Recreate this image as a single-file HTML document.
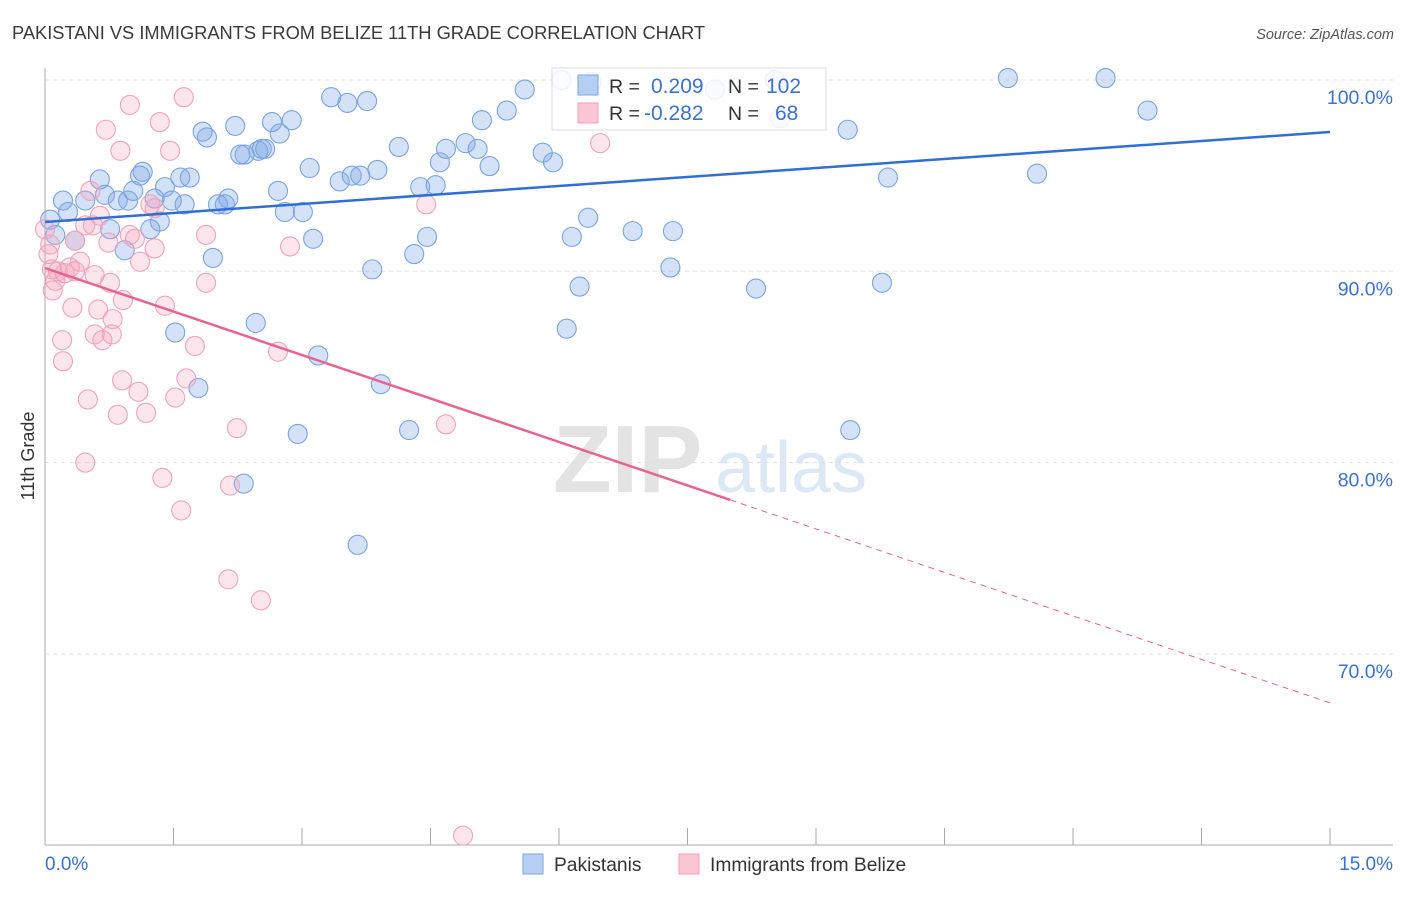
<!DOCTYPE html>
<html><head><meta charset="utf-8"><style>
body{margin:0;background:#fff;font-family:"Liberation Sans",sans-serif;}
svg text{font-family:"Liberation Sans",sans-serif;}
</style></head><body>
<svg id="chart" width="1406" height="892" xmlns="http://www.w3.org/2000/svg">
<text x="12" y="39" font-size="18.3" fill="#3a3a3a">PAKISTANI VS IMMIGRANTS FROM BELIZE 11TH GRADE CORRELATION CHART</text>
<text x="1394" y="39" font-size="14.5" fill="#555" font-style="italic" text-anchor="end">Source: ZipAtlas.com</text>
<g>
<text x="553" y="492" font-size="96" fill="#e3e3e3" font-family="Liberation Serif" font-weight="bold">ZIP</text>
<text x="715" y="492" font-size="72" fill="#dce8f6">atlas</text>
</g>
<g id="grid"></g>
<g id="axes"></g>
<g id="pts"></g>
<g id="lines"></g>
<g>
<rect x="552" y="68" width="274" height="62" fill="#fff" fill-opacity="0.85" stroke="#ddd"/>
<rect x="578" y="75" width="20" height="20" fill="#b5cff2" stroke="#7aa6e6"/>
<rect x="578" y="103" width="20" height="20" fill="#fbc6d4" stroke="#f0a0b6"/>
<text x="609" y="93" font-size="19.5" fill="#333">R =</text>
<text x="651" y="93" font-size="21" fill="#3a72d0">0.209</text>
<text x="728" y="93" font-size="19.5" fill="#333">N =</text>
<text x="766" y="93" font-size="21" fill="#3a72d0">102</text>
<text x="609" y="120" font-size="19.5" fill="#333">R =</text>
<text x="644" y="120" font-size="21" fill="#3a72d0">-0.282</text>
<text x="728" y="120" font-size="19.5" fill="#333">N =</text>
<text x="775" y="120" font-size="21" fill="#3a72d0">68</text>
</g>
<g>
<rect x="523" y="854" width="20" height="20" fill="#b5cff2" stroke="#7aa6e6"/>
<text x="554" y="871" font-size="19.2" fill="#333">Pakistanis</text>
<rect x="679" y="854" width="20" height="20" fill="#fbc6d4" stroke="#f0a0b6"/>
<text x="710" y="871" font-size="19.2" fill="#333">Immigrants from Belize</text>
</g>
<text transform="translate(34,456) rotate(-90)" font-size="18" fill="#333" text-anchor="middle">11th Grade</text>
</svg>
<script>
const yTicks=[100,90,80,70];
const yTickLabels=["100.0%","90.0%","80.0%","70.0%"];
const xEndLabels=["0.0%","15.0%"];
const blueX=[0.21,0.27,0.35,0.12,0.06,0.47,0.64,0.70,0.76,0.85,0.93,0.97,1.03,1.11,1.14,1.23,1.28,1.34,1.40,1.48,1.52,1.58,1.63,1.69,1.79,1.84,1.89,1.96,2.02,2.10,2.14,2.22,2.28,2.33,2.46,2.49,2.53,2.57,2.65,2.72,2.74,2.80,2.88,2.95,3.01,3.09,3.13,3.19,3.34,3.44,3.53,3.58,3.68,3.76,3.65,3.82,3.88,3.92,4.13,4.25,4.31,4.38,4.46,4.56,4.61,4.68,4.91,5.05,5.10,5.19,5.39,5.60,5.81,5.93,6.03,6.09,6.15,6.24,6.34,6.38,6.86,7.30,7.33,7.82,8.30,8.52,8.58,9.37,9.40,9.77,9.84,11.24,11.58,12.38,12.87,2.32];
const blueY=[93.7,93.1,91.6,91.9,92.7,93.7,94.8,94.0,92.2,93.7,91.1,93.7,94.2,95.0,95.2,92.2,93.8,92.6,94.4,93.7,86.8,94.9,93.5,94.9,83.9,97.3,97.0,90.7,93.5,93.5,93.8,97.6,96.1,96.1,87.3,96.3,96.4,96.4,97.8,94.2,97.2,93.1,97.9,81.5,93.1,95.4,91.7,85.6,99.1,94.7,98.8,95.0,95.0,98.9,75.7,90.1,95.3,84.1,96.5,81.7,90.9,94.4,91.8,94.5,95.7,96.4,96.7,96.4,97.9,95.5,98.4,99.5,96.2,95.7,100.0,87.0,91.8,89.2,92.8,99.9,92.1,90.2,92.1,99.5,89.1,100.0,98.0,97.4,81.7,89.4,94.9,100.1,95.1,100.1,98.4,78.9];
const pinkX=[0.06,0.08,0.12,0.09,0.15,0.20,0.21,0.29,0.32,0.35,0.41,0.35,0.50,0.47,0.53,0.56,0.58,0.62,0.64,0.67,0.71,0.74,0.76,0.78,0.79,0.85,0.90,0.91,0.88,0.99,1.05,1.09,1.11,1.18,1.23,1.28,1.34,1.37,1.40,1.46,1.52,1.59,1.62,1.65,1.75,1.88,1.88,2.14,2.16,2.24,2.52,2.72,2.86,4.45,4.68,4.88,6.48,0,0.04,0.23,0.47,1.28,0.58,0.99];
const pinkY=[91.4,90.1,89.5,89.0,90.0,86.4,85.3,90.2,88.1,91.6,90.5,90.0,83.3,80.0,94.2,92.4,86.7,88.0,92.9,86.4,97.4,91.5,89.4,86.7,87.5,82.5,84.3,88.5,96.3,98.7,91.7,83.7,90.5,82.6,93.5,91.2,97.8,79.2,88.2,96.3,83.4,77.5,99.1,84.4,86.1,91.9,89.4,73.9,78.8,81.8,72.8,85.8,91.3,93.5,82.0,60.5,96.7,92.2,90.9,89.9,92.4,93.3,89.8,91.9];
const blueTrend=[92.58,97.28];
const pinkTrend=[90.17,67.44];
const pinkSolidEnd=8.0;

const NS="http://www.w3.org/2000/svg";
const X0=45,X1=1330,Y100=80,PX10=191.3;
function sx(v){return X0+(v/15)*(X1-X0);}
function sy(v){return Y100+(100-v)/10*PX10;}
function mk(tag,attrs,parent){const e=document.createElementNS(NS,tag);for(const k in attrs)e.setAttribute(k,attrs[k]);parent.appendChild(e);return e;}
const grid=document.getElementById('grid'),axes=document.getElementById('axes'),pts=document.getElementById('pts'),lines=document.getElementById('lines');
yTicks.forEach((t,i)=>{
  const l=mk('line',{x1:X0,x2:1393,y1:sy(t),y2:sy(t),stroke:'#e0e0e0','stroke-dasharray':'4,4'},grid);
  
  
  const tx=mk('text',{x:1393,y:sy(t)+24,'font-size':19.5,fill:'#3a72d0','text-anchor':'end'},axes);
  tx.textContent=yTickLabels[i];
  
  
});
const ya=mk('line',{x1:X0,x2:X0,y1:68,y2:845,stroke:'#aaa'},axes);


const xa=mk('line',{x1:X0,x2:1393,y1:845,y2:845,stroke:'#aaa'},axes);


for(let k=0;k<=10;k++){
  const v=k*1.5;
  const t=mk('line',{x1:sx(v),x2:sx(v),y1:828,y2:845,stroke:'#aaa'},axes);
  
  
}
const xl0=mk('text',{x:45,y:870,'font-size':19,fill:'#3a72d0'},axes);
xl0.textContent=xEndLabels[0];


const xl1=mk('text',{x:1393,y:870,'font-size':19,fill:'#3a72d0','text-anchor':'end'},axes);
xl1.textContent=xEndLabels[1];



blueX.forEach((x,i)=>{
  const c=mk('circle',{cx:sx(x),cy:sy(blueY[i]),r:9.5,fill:'rgba(120,165,230,0.32)',stroke:'#7aa3e2','stroke-width':1.1},pts);
  
  
});
pinkX.forEach((x,i)=>{
  const c=mk('circle',{cx:sx(x),cy:sy(pinkY[i]),r:9.5,fill:'rgba(245,160,185,0.28)',stroke:'#f0a3b9','stroke-width':1.1},pts);
  
  
});
const bl=mk('line',{x1:sx(0),y1:sy(blueTrend[0]),x2:sx(15),y2:sy(blueTrend[1]),stroke:'#2f6fd6','stroke-width':2.5},lines);


const pAt=v=>pinkTrend[0]+(pinkTrend[1]-pinkTrend[0])*v/15;
const pl=mk('line',{x1:sx(0),y1:sy(pinkTrend[0]),x2:sx(pinkSolidEnd),y2:sy(pAt(pinkSolidEnd)),stroke:'#e8648f','stroke-width':2.5},lines);


const pd=mk('line',{x1:sx(pinkSolidEnd),y1:sy(pAt(pinkSolidEnd)),x2:sx(15),y2:sy(pinkTrend[1]),stroke:'#e8648f','stroke-width':1,'stroke-dasharray':'6,5'},lines);


</script>
</body></html>
